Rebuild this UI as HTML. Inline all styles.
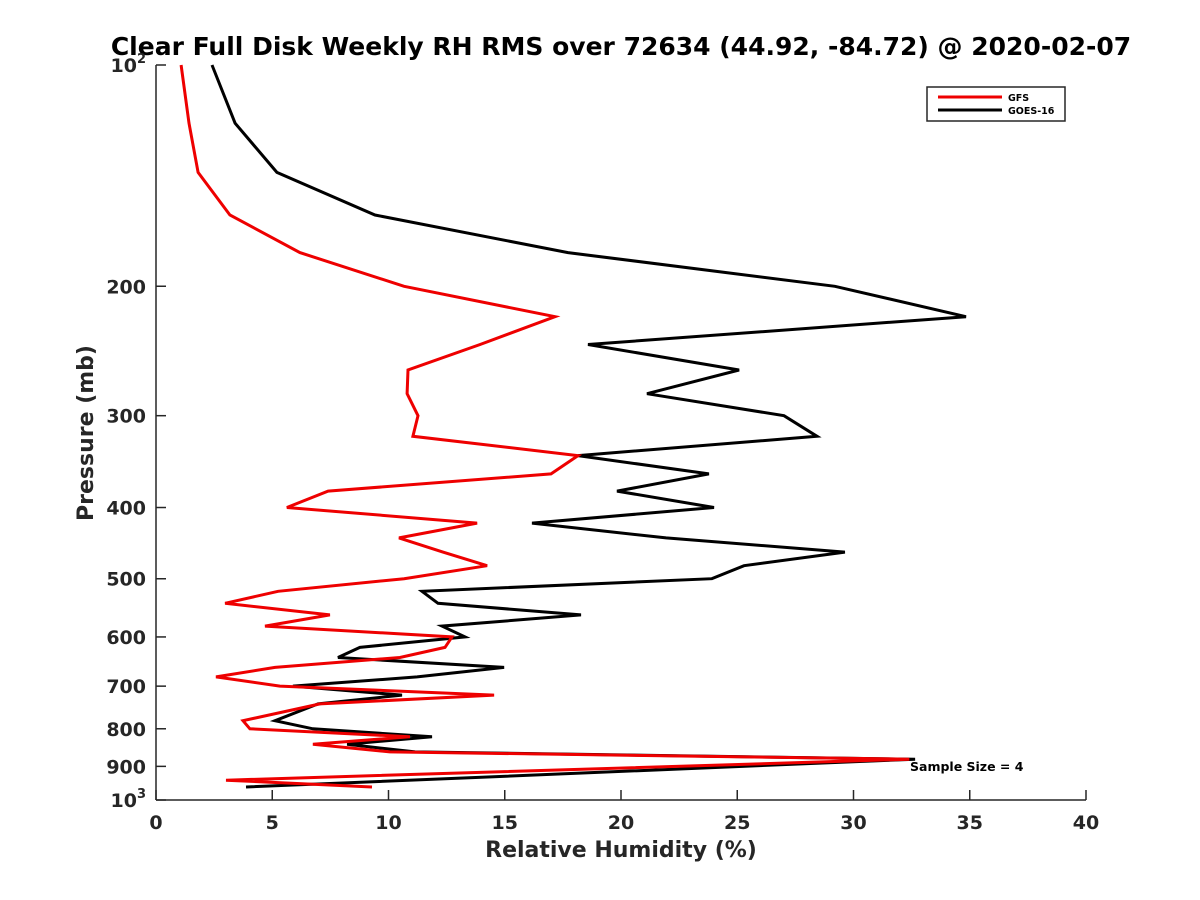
<!DOCTYPE html>
<html><head><meta charset="utf-8"><style>body{margin:0;background:#fff}svg{display:block;font-family:"DejaVu Sans","Liberation Sans",sans-serif}</style></head>
<body>
<svg id="c" width="1200" height="900">
<rect width="1200" height="900" fill="#fff"/>
<text x="621" y="55" text-anchor="middle" font-size="25" font-weight="bold">Clear Full Disk Weekly RH RMS over 72634 (44.92, -84.72) @ 2020-02-07</text>
<g id="axes"></g>
<g id="series"></g>
<text x="621" y="857" text-anchor="middle" font-size="22" font-weight="bold" fill="#262626">Relative Humidity (%)</text>
<text transform="translate(93,433) rotate(-90)" text-anchor="middle" font-size="22" font-weight="bold" fill="#262626">Pressure (mb)</text>
<g>
<rect x="927" y="87" width="138" height="34" fill="#fff" stroke="#262626" stroke-width="1.5"/>
<line x1="938" y1="97" x2="1002" y2="97" stroke="#e00" stroke-width="3"/>
<text x="1008" y="101" font-size="9.5" font-weight="bold">GFS</text>
<line x1="938" y1="110" x2="1002" y2="110" stroke="#000" stroke-width="3"/>
<text x="1008" y="114" font-size="9.5" font-weight="bold">GOES-16</text>
</g>
<text x="910" y="771" font-size="12.5" font-weight="bold">Sample Size = 4</text>
</svg>
<script>
const gfsPressure=[100,120,140,160,180,200,220,240,260,280,300,320,340,360,380,400,420,440,460,480,500,520,540,560,580,600,620,640,660,680,700,720,740,780,800,820,840,860,880,940,960];
const gfsRH=[1.08,1.42,1.81,3.18,6.19,10.67,17.16,13.94,10.84,10.80,11.27,11.05,18.15,16.99,7.40,5.63,13.81,10.45,12.34,14.24,10.67,5.25,2.97,7.48,4.69,12.73,12.43,10.49,5.12,2.58,5.33,14.54,7.05,3.74,4.04,10.92,6.75,10.06,32.4,3.01,9.29];
const goesPressure=[100,120,140,160,180,200,220,240,260,280,300,320,340,360,380,400,420,440,460,480,500,520,540,560,580,600,620,640,660,680,700,720,740,780,800,820,840,860,880,960];
const goesRH=[2.41,3.40,5.20,9.42,17.72,29.20,34.84,18.58,25.08,21.12,27.01,28.43,18.15,23.78,19.83,24.0,16.17,21.94,29.63,25.29,23.91,11.44,12.13,18.28,12.30,13.29,8.77,7.83,14.97,11.23,5.89,10.58,6.97,5.12,6.75,11.87,8.22,11.14,32.65,3.87];
const xTicks=[0,5,10,15,20,25,30,35,40];
const yTicks=[100,200,300,400,500,600,700,800,900,1000];
const L=156,R=1086,T=65,B=800;
const X=v=>L+(v-0)/40*(R-L);
const Y=p=>T+Math.log10(p/100)*(B-T);
const NS="http://www.w3.org/2000/svg";
function mk(tag,attrs,parent){const e=document.createElementNS(NS,tag);for(const k in attrs)e.setAttribute(k,attrs[k]);parent.appendChild(e);return e;}
const ax=document.getElementById('axes');
const xl=mk('line',{x1:L,y1:B,x2:R,y2:B,stroke:'#262626','stroke-width':1.5},ax);


const yl=mk('line',{x1:L,y1:T,x2:L,y2:B,stroke:'#262626','stroke-width':1.5},ax);


xTicks.forEach(v=>{
  mk('line',{x1:X(v),y1:B,x2:X(v),y2:B-10,stroke:'#262626','stroke-width':1.5},ax);
  const t=mk('text',{x:X(v),y:B+29,'text-anchor':'middle','font-size':19,'font-weight':'bold',fill:'#262626'},ax);
  t.textContent=v;
  
  
});
yTicks.forEach(p=>{
  const y=Y(p);
  mk('line',{x1:L,y1:y,x2:L+10,y2:y,stroke:'#262626','stroke-width':1.5},ax);
  const t=mk('text',{x:L-10,y:y+7,'text-anchor':'end','font-size':19,'font-weight':'bold',fill:'#262626'},ax);
  if(p===100||p===1000){t.textContent='10';const s=mk('tspan',{dy:-9,'font-size':13},t);s.textContent=p===100?'2':'3';}
  else t.textContent=p;
  
  
});
const sg=document.getElementById('series');
function line(ps,vs,color,name){
  const d=ps.map((p,i)=>(i?'L':'M')+X(vs[i]).toFixed(1)+' '+Y(p).toFixed(1)).join(' ');
  const e=mk('path',{d:d,fill:'none',stroke:color,'stroke-width':3,'stroke-linejoin':'miter'},sg);
  
  
}
line(goesPressure,goesRH,'#000','goes16-line');
line(gfsPressure,gfsRH,'#e00','gfs-line');
</script>
</body></html>
